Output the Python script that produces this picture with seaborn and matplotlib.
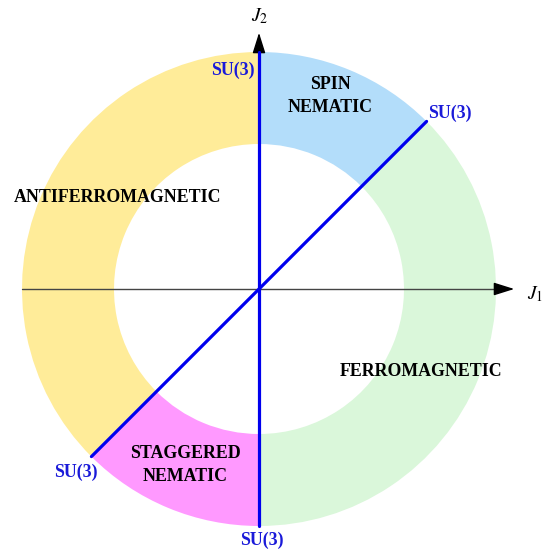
import matplotlib
matplotlib.use("Agg")
import matplotlib.pyplot as plt
from matplotlib.patches import Wedge
import numpy as np
import seaborn as sns

# phase sectors of the J1-J2 circle (angles in degrees)
phases = ["SPIN\nNEMATIC", "ANTIFERROMAGNETIC", "STAGGERED\nNEMATIC", "FERROMAGNETIC"]
theta_start = [45, 90, 225, 270]
theta_end = [90, 225, 270, 405]
colors = ["#b3ddfa", "#ffec99", "#ff99ff", "#daf7da"]
label_pos = [(71, 193), (-141, 91), (-74, -176), (162, -83)]

# SU(3) points on the circle
su3_angles = [90, 45, 225, 270]
su3_pos = [(-26, 219), (191, 176), (-183, -183), (3, -251)]

r_out, r_in = 237, 145

sns.set_style("white")
plt.rcParams["font.family"] = ["Liberation Serif", "DejaVu Serif"]
plt.rcParams["mathtext.fontset"] = "stix"

fig = plt.figure(figsize=(5.48, 5.53), dpi=100)
ax = fig.add_axes([0, 0, 1, 1])
ax.set_xlim(-259, 289)
ax.set_ylim(-264, 289)
ax.set_aspect("equal")
ax.axis("off")

for t1, t2, c in zip(theta_start, theta_end, colors):
    ax.add_patch(Wedge((0, 0), r_out, t1, t2, width=r_out - r_in,
                       facecolor=c, edgecolor="none", zorder=1))

# axes with arrows
ax.plot([-r_out, 245], [0, 0], color="#444444", lw=1, zorder=2)
ax.plot([0, 0], [-r_out, 246], color="#444444", lw=1, zorder=2)
ax.annotate("", xy=(258, 0), xytext=(240, 0),
            arrowprops=dict(arrowstyle="-|>,head_length=0.7,head_width=0.22",
                            color="black", lw=1, mutation_scale=18), zorder=3)
ax.annotate("", xy=(0, 259), xytext=(0, 241),
            arrowprops=dict(arrowstyle="-|>,head_length=0.7,head_width=0.22",
                            color="black", lw=1, mutation_scale=18), zorder=3)
ax.text(268, -5, "$J_1$", fontsize=14, color="black", ha="left", va="center")
ax.text(-8, 273, "$J_2$", fontsize=14, color="black", ha="left", va="center")

# SU(3) lines
ax.plot([0, 0], [-r_out, r_out], color="#0000ee", lw=2.3, zorder=4)
a = np.deg2rad(45)
ax.plot([-r_out * np.cos(a), r_out * np.cos(a)], [-r_out * np.sin(a), r_out * np.sin(a)],
        color="#0000ee", lw=2.3, zorder=4)

for (x, y), name in zip(label_pos, phases):
    ax.text(x, y, name, fontsize=12.9, fontweight="bold", color="black",
            ha="center", va="center", linespacing=1.4, zorder=5)

for (x, y) in su3_pos:
    ax.text(x, y, "SU(3)", fontsize=12.9, fontweight="bold", color="#1a1ad9",
            ha="center", va="center", zorder=5)

fig.savefig("out.png", dpi=100)
